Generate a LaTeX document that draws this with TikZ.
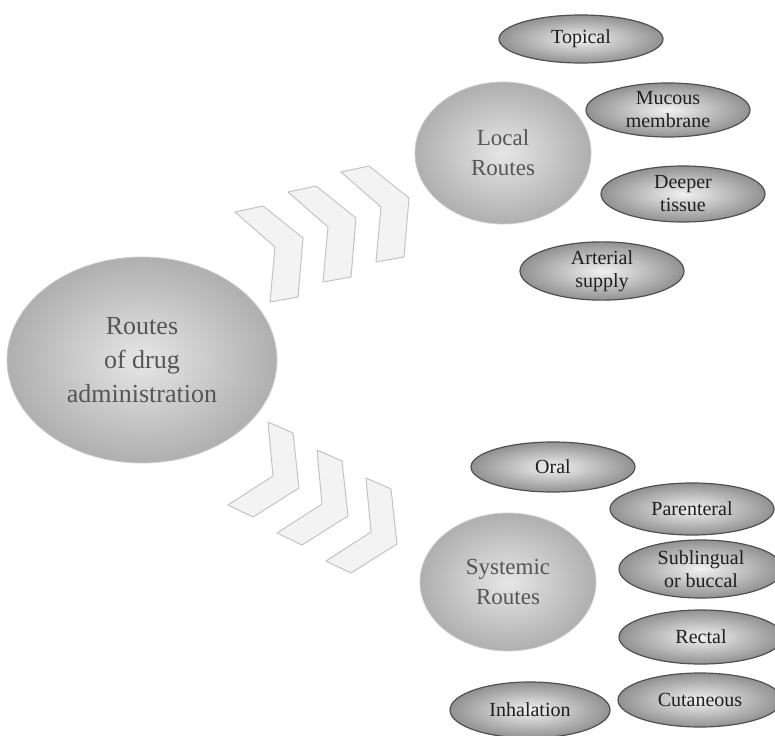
\documentclass[tikz,border=0pt]{standalone}
\usepackage{fontspec}
\setmainfont{Liberation Serif}
\usepackage{tikz}
\usetikzlibrary{shapes.geometric}
\definecolor{hubinner}{RGB}{230,230,230}
\definecolor{hubouter}{RGB}{175,175,175}
\definecolor{hubedge}{RGB}{205,205,205}
\definecolor{hubtext}{RGB}{85,85,85}
\definecolor{leafinner}{RGB}{242,242,242}
\definecolor{leafouter}{RGB}{145,145,145}
\definecolor{leafedge}{RGB}{80,80,80}
\definecolor{leaftext}{RGB}{30,30,30}
\definecolor{chevfill}{RGB}{243,243,243}
\definecolor{chevedge}{RGB}{195,195,195}
\tikzset{
    hub/.style={
        ellipse,
        inner sep=0pt,
        shading=radial,
        inner color=hubinner,
        outer color=hubouter,
        draw=hubedge,
        line width=0.8pt,
        text=hubtext,
        align=center
    },
    mainhub/.style={
        hub,
        minimum width=270pt,
        minimum height=206pt,
        font=\fontsize{26}{34}\selectfont
    },
    routehub/.style={
        hub,
        minimum width=176pt,
        minimum height=142pt,
        font=\fontsize{23}{30}\selectfont
    },
    leaf/.style={
        ellipse,
        inner sep=0pt,
        shading=radial,
        inner color=leafinner,
        outer color=leafouter,
        draw=leafedge,
        line width=1.2pt,
        text=leaftext,
        align=center,
        minimum width=164pt,
        minimum height=54pt,
        font=\fontsize{20}{23}\selectfont
    },
    chevronshape/.style={
        fill=chevfill,
        draw=chevedge,
        line width=1pt,
        line join=round
    }
}

\begin{document}
\begin{tikzpicture}[x=1pt, y=-1pt]

\useasboundingbox (0,0) rectangle (775,735);

% Chevrons towards local routes
\foreach \i in {0,1,2} {
    \draw[chevronshape, shift={(53*\i,-20*\i)}]
        (235,212) -- (263,206) -- (303,238) -- (298,297) -- (270,302) -- (275,247) -- cycle;
}

% Chevrons towards systemic routes
\foreach \i in {0,1,2} {
    \draw[chevronshape, shift={(49*\i,28*\i)}]
        (268,422) -- (293,433) -- (299,488) -- (253,517) -- (228,505) -- (273,476) -- cycle;
}

% Main hub
\node[mainhub] (main) at (142,360) {Routes\\of drug\\administration};

% Local routes
\node[routehub] (local) at (503,153) {Local\\Routes};
\node[leaf, minimum height=48pt] (topical) at (581,39) {Topical};
\node[leaf] (mucous) at (668,110) {Mucous\\membrane};
\node[leaf, minimum height=56pt] (deeper) at (683,194) {Deeper\\tissue};
\node[leaf, minimum height=56pt] (arterial) at (602,271) {Arterial\\supply};

% Systemic routes
\node[routehub, minimum height=138pt] (systemic) at (508,582) {Systemic\\Routes};
\node[leaf, minimum height=50pt] (oral) at (553,467) {Oral};
\node[leaf, minimum height=52pt] (parenteral) at (692,509) {Parenteral};
\node[leaf, minimum height=58pt] (sublingual) at (701,569) {Sublingual\\or buccal};
\node[leaf] (rectal) at (701,637) {Rectal};
\node[leaf] (cutaneous) at (700,700) {Cutaneous};
\node[leaf, minimum width=160pt, minimum height=56pt] (inhalation) at (530,710) {Inhalation};

\end{tikzpicture}
\end{document}
